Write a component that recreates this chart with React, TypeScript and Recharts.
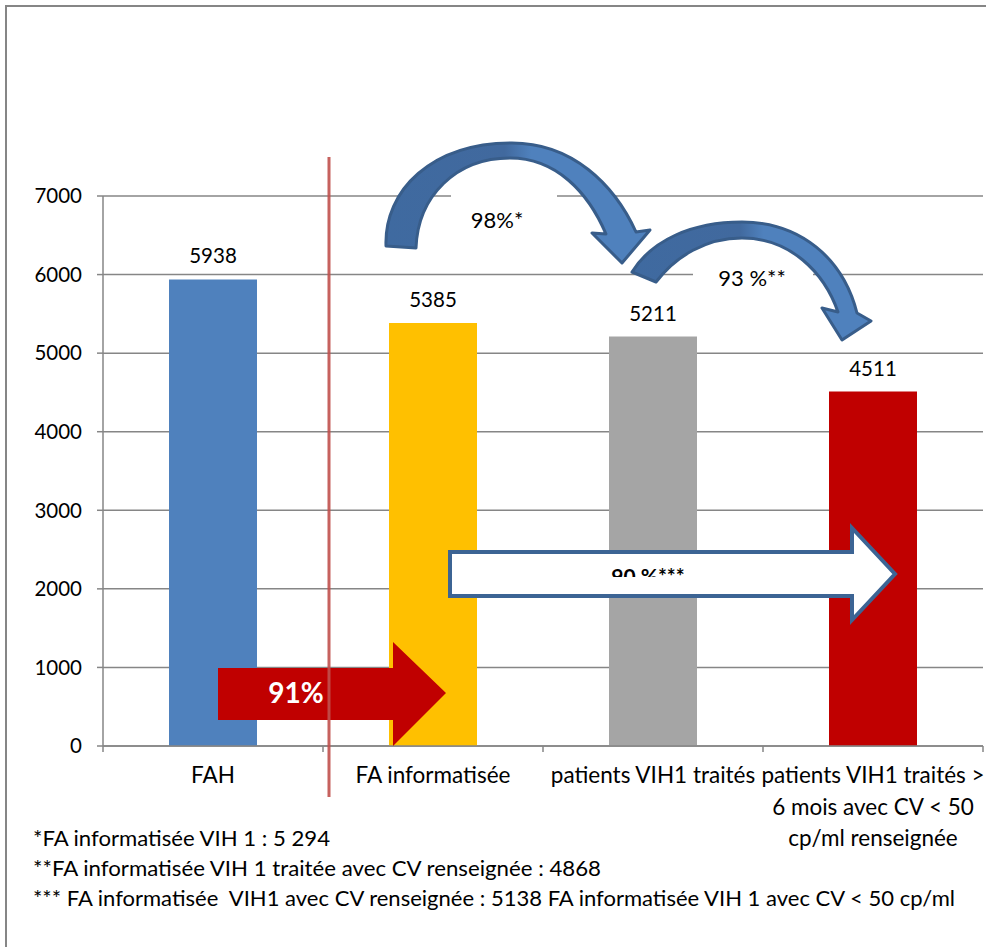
import React from "react";
import { BarChart, Bar, XAxis, YAxis, CartesianGrid, Cell, LabelList } from "recharts";

const categories = [
  "FAH",
  "FA informatisée",
  "patients VIH1 traités",
  "patients VIH1 traités > 6 mois avec CV < 50 cp/ml renseignée",
];
const counts = [5938, 5385, 5211, 4511];
const tickLabelLines = [
  ["FAH"],
  ["FA informatisée"],
  ["patients VIH1 traités"],
  ["patients VIH1 traités >", "6 mois avec CV < 50", "cp/ml renseignée"],
];
const yTicks = [0, 1000, 2000, 3000, 4000, 5000, 6000, 7000];
const footnotes = [
  "*FA informatisée VIH 1 : 5 294",
  "**FA informatisée VIH 1 traitée avec CV renseignée : 4868",
  "*** FA informatisée  VIH1 avec CV renseignée : 5138 FA informatisée VIH 1 avec CV < 50 cp/ml",
];
const footnoteWidths = [297, 568, 922];
const arrowLabels = ["91%", "90 %***", "98%*", "93 %**"];

const barColors = ["#4f81bd", "#ffc000", "#a5a5a5", "#c00000"];

const W = 986;
const H = 947;
const FONT = "Lato, 'Open Sans', sans-serif";
const AXIS = "#868686";
const BAND = (W - 103 - 3) / categories.length;

const rows = categories.map((name, i) => ({ name, value: counts[i] }));

const CategoryTick = (props: any) => {
  const { x, y, index } = props;
  const lines = tickLabelLines[index] || [];
  const half = BAND / 2;
  return (
    <g>
      <line x1={x - half} x2={x - half} y1={y} y2={y + 6} stroke={AXIS} strokeWidth={1.5} />
      {index === categories.length - 1 && (
        <line x1={x + half} x2={x + half} y1={y} y2={y + 6} stroke={AXIS} strokeWidth={1.5} />
      )}
      <text x={x} y={y + 37} textAnchor="middle" fontSize={22.5} fill="#000" fontFamily={FONT}>
        {lines.map((l, i) => (
          <tspan key={i} x={x} dy={i === 0 ? 0 : 31.5}>
            {l}
          </tspan>
        ))}
      </text>
    </g>
  );
};

// overlay: arrows, separator and notes drawn on top of the chart
const Overlay = () => (
  <svg
    width={W}
    height={H}
    style={{ position: "absolute", left: 0, top: 0, pointerEvents: "none" }}
  >
    <defs>
      <linearGradient id="curve" x1="0" y1="0" x2="1" y2="0">
        <stop offset="0%" stopColor="#3f6aa0" />
        <stop offset="45%" stopColor="#41699e" />
        <stop offset="55%" stopColor="#4f81bd" />
        <stop offset="100%" stopColor="#4f81bd" />
      </linearGradient>
      <clipPath id="cut90">
        <rect x={440} y={540} width={420} height={37} />
      </clipPath>
    </defs>

    {/* frame */}
    <line x1={5} y1={6} x2={W} y2={6} stroke={AXIS} strokeWidth={2} />
    <line x1={6} y1={5} x2={6} y2={H} stroke={AXIS} strokeWidth={2} />

    {/* text boxes hiding gridlines */}
    <rect x={451} y={180} width={106} height={70} fill="#fff" />
    <rect x={693} y={257} width={120} height={42} fill="#fff" />

    {/* red block arrow */}
    <path d="M218,668 L393,668 L393,642 L446,693 L393,746 L393,720 L218,720 Z" fill="#c00000" />
    <text x={296} y={703} textAnchor="middle" fontSize={28} fontWeight="bold" fill="#fff" fontFamily={FONT}>
      {arrowLabels[0]}
    </text>

    {/* separator */}
    <line x1={329} y1={157} x2={329} y2={797} stroke="#c0504d" strokeWidth={3} opacity={0.9} />

    {/* white block arrow */}
    <path
      d="M450,552 L852,552 L852,528 L895,574 L852,620 L852,596 L450,596 Z"
      fill="#fff"
      stroke="#3c6494"
      strokeWidth={4}
    />
    <g clipPath="url(#cut90)">
      <text x={648} y={584} textAnchor="middle" fontSize={21} fontWeight="bold" fill="#000" fontFamily={FONT}>
        {arrowLabels[1]}
      </text>
    </g>

    {/* curved arrows */}
    <path
      d="M632,272 C652,240 692,222 742,222 C800,222 843,258 857,313 L871,321 L842,340 L822,308 L838,312 C824,272 790,238 742,238 C706,238 676,256 656,282 Z"
      fill="url(#curve)"
      stroke="#385d8a"
      strokeWidth={3}
      strokeLinejoin="round"
    />
    <path
      d="M386,246 C384,190 432,143 512,143 C572,143 614,184 636,232 L650,230 L622,263 L592,233 L606,234 C588,192 556,158 510,158 C456,158 418,196 416,248 Z"
      fill="url(#curve)"
      stroke="#385d8a"
      strokeWidth={3}
      strokeLinejoin="round"
    />
    <text x={497} y={228} textAnchor="middle" fontSize={22} fill="#000" fontFamily={FONT}>
      {arrowLabels[2]}
    </text>
    <text x={752} y={286} textAnchor="middle" fontSize={22} fill="#000" fontFamily={FONT}>
      {arrowLabels[3]}
    </text>

    {/* footnotes */}
    {footnotes.map((t, i) => (
      <text
        key={i}
        x={33}
        y={846 + i * 30}
        fontSize={22}
        fill="#000"
        fontFamily={FONT}
        xmlSpace="preserve"
        textLength={footnoteWidths[i]}
        lengthAdjust="spacingAndGlyphs"
      >
        {t}
      </text>
    ))}
  </svg>
);

export default function App() {
  return (
    <div style={{ position: "absolute", left: 0, top: 0, width: W, height: H, background: "#fff", fontFamily: FONT }}>
      <BarChart
        width={W}
        height={H}
        data={rows}
        margin={{ top: 196, right: 3, bottom: 101, left: 43 }}
      >
        <CartesianGrid vertical={false} stroke={AXIS} strokeWidth={1.5} />
        <XAxis
          dataKey="name"
          height={100}
          interval={0}
          tickLine={false}
          tickSize={0}
          tickMargin={0}
          axisLine={{ stroke: AXIS, strokeWidth: 1.5 }}
          tick={<CategoryTick />}
        />
        <YAxis
          width={60}
          domain={[0, 7000]}
          ticks={yTicks}
          interval={0}
          tickSize={6}
          tickMargin={15}
          axisLine={{ stroke: AXIS, strokeWidth: 1.5 }}
          tickLine={{ stroke: AXIS, strokeWidth: 1.5 }}
          tick={{ fontSize: 20.5, fill: "#000", fontFamily: FONT }}
        />
        <Bar dataKey="value" barSize={88} isAnimationActive={false}>
          {rows.map((r, i) => (
            <Cell key={r.name} fill={barColors[i]} />
          ))}
          <LabelList dataKey="value" position="top" offset={16} fontSize={20.5} fill="#000" fontFamily={FONT} />
        </Bar>
      </BarChart>
      <Overlay />
    </div>
  );
}
